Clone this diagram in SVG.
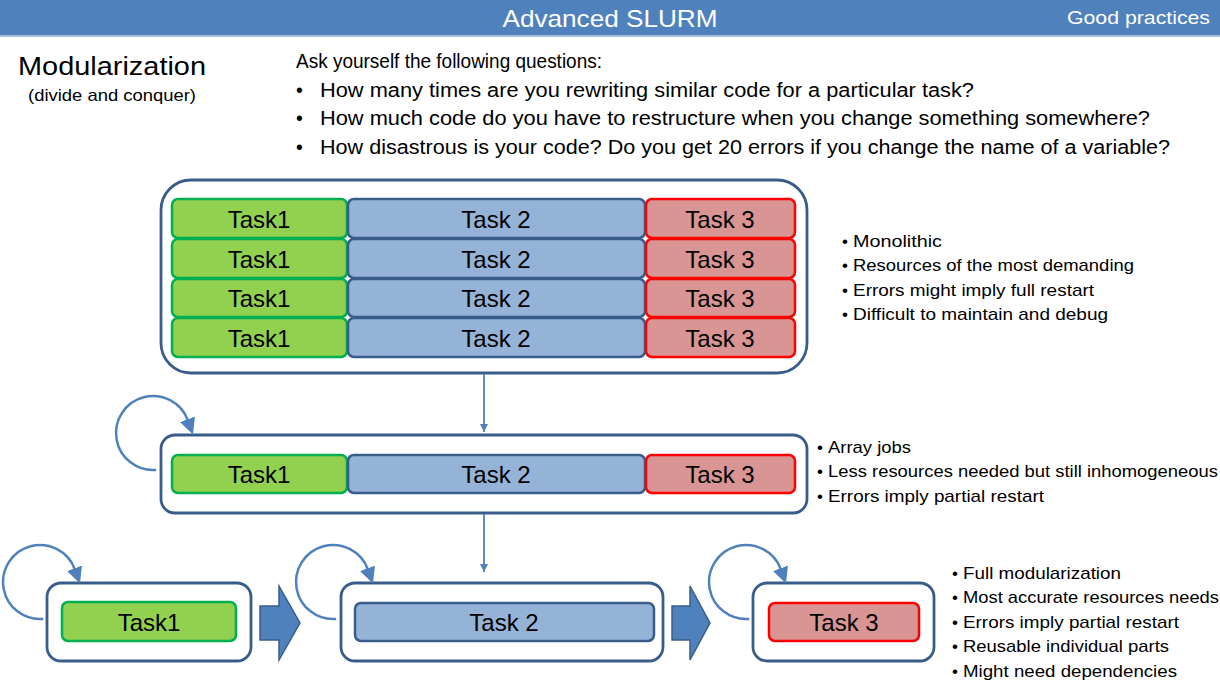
<svg xmlns="http://www.w3.org/2000/svg" width="1220" height="684" viewBox="0 0 1220 684">
<style>
text{font-family:"Liberation Sans",Arial,sans-serif;fill:#000}
.hd{fill:#fff}
.tk{font-size:24px;text-anchor:middle}
.b{font-size:17px}
.q{font-size:19.5px}
.g{fill:#92D050;stroke:#00B050;stroke-width:2.5}
.bl{fill:#95B3D7;stroke:#385D8A;stroke-width:2.5}
.r{fill:#D99594;stroke:#FF0000;stroke-width:2.5}
.box{fill:#fff;stroke:#385D8A;stroke-width:2.8}
.loop{fill:none;stroke:#4F81BD;stroke-width:2.5}
.blk{fill:#4F81BD;stroke:#385D8A;stroke-width:1.5}
.ln{stroke:#4F81BD;stroke-width:1.8;fill:none}
</style>
<defs>
<marker id="ah" markerUnits="userSpaceOnUse" markerWidth="18" markerHeight="18" refX="1" refY="8" orient="auto">
<path d="M0,0 L16,8 L0,16 Z" fill="#4F81BD"/>
</marker>
<marker id="sa" markerUnits="userSpaceOnUse" markerWidth="10" markerHeight="10" refX="8" refY="4" orient="auto">
<path d="M0,0 L8,4 L0,8 Z" fill="#4F81BD"/>
</marker>
</defs>
<rect width="1220" height="684" fill="#fff"/>
<g id="header">
<rect x="0" y="0" width="1220" height="35" fill="#4F81BD"/>
<rect x="0" y="35" width="1220" height="2" fill="#A7C0DE"/>
<text class="hd" x="610" y="27" font-size="24" text-anchor="middle" textLength="215" lengthAdjust="spacingAndGlyphs">Advanced SLURM</text>
<text class="hd" x="1210" y="24" font-size="19" text-anchor="end" textLength="143" lengthAdjust="spacingAndGlyphs">Good practices</text>
</g>
<g id="intro">
<text x="18" y="75" font-size="26" textLength="188" lengthAdjust="spacingAndGlyphs">Modularization</text>
<text x="112" y="101" font-size="16.5" text-anchor="middle" textLength="168" lengthAdjust="spacingAndGlyphs">(divide and conquer)</text>
<text class="q" x="296" y="68" textLength="306" lengthAdjust="spacingAndGlyphs">Ask yourself the following questions:</text>
<text class="q" x="296" y="97">•</text>
<text class="q" x="320" y="97" textLength="654" lengthAdjust="spacingAndGlyphs">How many times are you rewriting similar code for a particular task?</text>
<text class="q" x="296" y="125">•</text>
<text class="q" x="320" y="125" textLength="830" lengthAdjust="spacingAndGlyphs">How much code do you have to restructure when you change something somewhere?</text>
<text class="q" x="296" y="154">•</text>
<text class="q" x="320" y="154" textLength="850" lengthAdjust="spacingAndGlyphs">How disastrous is your code? Do you get 20 errors if you change the name of a variable?</text>
</g>
<g id="monolithic">
<rect class="box" x="161" y="180" width="646" height="193" rx="30"/>
<rect class="g" x="172" y="199" width="175" height="39" rx="6"/>
<rect class="bl" x="348" y="199" width="297" height="39" rx="6"/>
<rect class="r" x="646" y="199" width="149" height="39" rx="6"/>
<rect class="g" x="172" y="239" width="175" height="39" rx="6"/>
<rect class="bl" x="348" y="239" width="297" height="39" rx="6"/>
<rect class="r" x="646" y="239" width="149" height="39" rx="6"/>
<rect class="g" x="172" y="279" width="175" height="38" rx="6"/>
<rect class="bl" x="348" y="279" width="297" height="38" rx="6"/>
<rect class="r" x="646" y="279" width="149" height="38" rx="6"/>
<rect class="g" x="172" y="318" width="175" height="39" rx="6"/>
<rect class="bl" x="348" y="318" width="297" height="39" rx="6"/>
<rect class="r" x="646" y="318" width="149" height="39" rx="6"/>
<text class="tk" x="259" y="228">Task1</text>
<text class="tk" x="496" y="228">Task 2</text>
<text class="tk" x="720" y="228">Task 3</text>
<text class="tk" x="259" y="268">Task1</text>
<text class="tk" x="496" y="268">Task 2</text>
<text class="tk" x="720" y="268">Task 3</text>
<text class="tk" x="259" y="307">Task1</text>
<text class="tk" x="496" y="307">Task 2</text>
<text class="tk" x="720" y="307">Task 3</text>
<text class="tk" x="259" y="347">Task1</text>
<text class="tk" x="496" y="347">Task 2</text>
<text class="tk" x="720" y="347">Task 3</text>
</g>
<g id="monolithic-notes">
<text class="b" x="842" y="247">•</text><text class="b" x="853" y="247" textLength="89" lengthAdjust="spacingAndGlyphs">Monolithic</text>
<text class="b" x="842" y="271">•</text><text class="b" x="853" y="271" textLength="281" lengthAdjust="spacingAndGlyphs">Resources of the most demanding</text>
<text class="b" x="842" y="296">•</text><text class="b" x="853" y="296" textLength="241" lengthAdjust="spacingAndGlyphs">Errors might imply full restart</text>
<text class="b" x="842" y="320">•</text><text class="b" x="853" y="320" textLength="255" lengthAdjust="spacingAndGlyphs">Difficult to maintain and debug</text>
</g>
<g id="array">
<rect class="box" x="161" y="435" width="646" height="78" rx="14"/>
<rect class="g" x="172" y="455" width="175" height="38" rx="6"/>
<rect class="bl" x="348" y="455" width="297" height="38" rx="6"/>
<rect class="r" x="646" y="455" width="149" height="38" rx="6"/>
<text class="tk" x="259" y="483">Task1</text>
<text class="tk" x="496" y="483">Task 2</text>
<text class="tk" x="720" y="483">Task 3</text>
</g>
<g id="array-notes">
<text class="b" x="817" y="453">•</text><text class="b" x="828" y="453" textLength="83" lengthAdjust="spacingAndGlyphs">Array jobs</text>
<text class="b" x="817" y="477">•</text><text class="b" x="828" y="477" textLength="390" lengthAdjust="spacingAndGlyphs">Less resources needed but still inhomogeneous</text>
<text class="b" x="817" y="502">•</text><text class="b" x="828" y="502" textLength="216" lengthAdjust="spacingAndGlyphs">Errors imply partial restart</text>
</g>
<g id="mod1">
<rect class="box" x="47" y="583" width="204" height="78" rx="14"/>
<rect class="g" x="62" y="602" width="174" height="39" rx="6"/>
<text class="tk" x="149" y="631">Task1</text>
</g>
<g id="mod2">
<rect class="box" x="341" y="583" width="322" height="78" rx="14"/>
<rect class="bl" x="355" y="603" width="299" height="38" rx="6"/>
<text class="tk" x="504" y="631">Task 2</text>
</g>
<g id="mod3">
<rect class="box" x="753" y="583" width="181" height="78" rx="14"/>
<rect class="r" x="769" y="603" width="150" height="38" rx="6"/>
<text class="tk" x="844" y="631">Task 3</text>
</g>
<g id="mod-notes">
<text class="b" x="952" y="579">•</text><text class="b" x="963" y="579" textLength="158" lengthAdjust="spacingAndGlyphs">Full modularization</text>
<text class="b" x="952" y="603">•</text><text class="b" x="963" y="603" textLength="256" lengthAdjust="spacingAndGlyphs">Most accurate resources needs</text>
<text class="b" x="952" y="628">•</text><text class="b" x="963" y="628" textLength="216" lengthAdjust="spacingAndGlyphs">Errors imply partial restart</text>
<text class="b" x="952" y="652">•</text><text class="b" x="963" y="652" textLength="206" lengthAdjust="spacingAndGlyphs">Reusable individual parts</text>
<text class="b" x="952" y="677">•</text><text class="b" x="963" y="677" textLength="214" lengthAdjust="spacingAndGlyphs">Might need dependencies</text>
</g>
<g id="connectors">
<path class="ln" d="M484,374 V432" marker-end="url(#sa)"/>
<path class="ln" d="M484,514 V572" marker-end="url(#sa)"/>
<path class="loop" d="M156.2,469.9 A37,37 0 1 1 187.8,420.3" marker-end="url(#ah)"/>
<path class="loop" d="M43.2,618.9 A37,37 0 1 1 74.8,569.3" marker-end="url(#ah)"/>
<path class="loop" d="M336.2,618.9 A37,37 0 1 1 367.8,569.3" marker-end="url(#ah)"/>
<path class="loop" d="M749.2,618.9 A37,37 0 1 1 780.8,569.3" marker-end="url(#ah)"/>
<path class="blk" d="M260,606 H279 V586 L300,623 L279,660 V640 H260 Z"/>
<path class="blk" d="M672,606 H690 V586 L710,623 L690,660 V640 H672 Z"/>
</g>
</svg>
